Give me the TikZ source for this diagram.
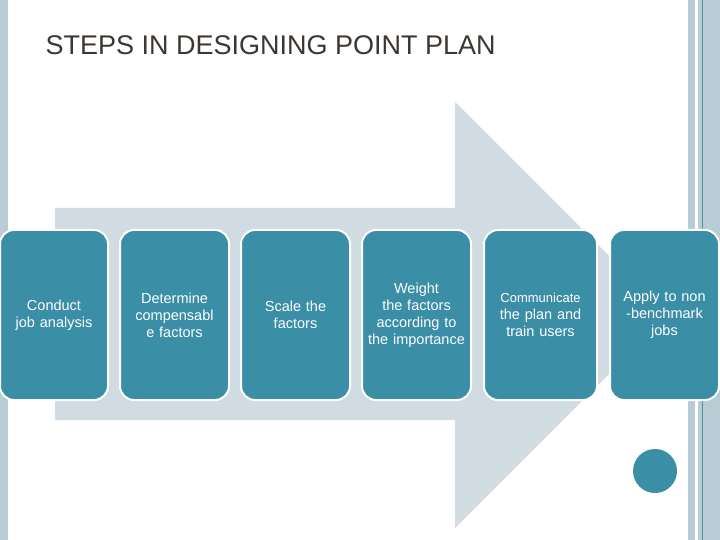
\documentclass[tikz,border=0pt]{standalone}
\usepackage{fontspec}
\setmainfont{Liberation Sans}
\definecolor{boxc}{RGB}{58,142,166}
\definecolor{arrc}{RGB}{208,220,226}
\definecolor{barc}{RGB}{184,204,214}
\definecolor{darkl}{RGB}{90,140,160}
\definecolor{titc}{RGB}{60,55,50}
\begin{document}
\begin{tikzpicture}[x=1pt,y=-1pt,
  stepbox/.style={draw=white,line width=2pt,fill=boxc,rounded corners=14pt,text=white,align=center,font=\fontsize{14.5}{17}\selectfont,text width=100pt,inner sep=0pt}]
\useasboundingbox (0,0) rectangle (720,540);
\fill[white] (0,0) rectangle (720,540);
\fill[barc] (0,0) rectangle (8,540);
\fill[barc] (688,0) rectangle (695,540);
\fill[barc] (698,0) rectangle (720,540);
\draw[darkl,line width=0.8pt] (702,0) -- (702,540);
\fill[arrc] (55,208) -- (455,208) -- (455,102) -- (668,315) -- (455,528) -- (455,420) -- (55,420) -- cycle;
\node[anchor=west,text=titc,font=\fontsize{27}{30}\selectfont] (t) at (42,45) {STEPS IN DESIGNING POINT PLAN};
\path[stepbox] (0,230) rectangle (108,400) node[midway,draw=none,fill=none] (b1) {Conduct job analysis};
\path[stepbox] (120,230) rectangle (229,400) node[midway,draw=none,fill=none] (b2) {Determine compensabl e factors};
\path[stepbox] (241,230) rectangle (350,400) node[midway,draw=none,fill=none] (b3) {Scale the factors};
\path[stepbox] (362,230) rectangle (471,400) node[midway,draw=none,fill=none] (b4) {Weight the factors according to the importance};
\path[stepbox] (484,230) rectangle (597,400) node[midway,draw=none,fill=none] (b5) {{\fontsize{13}{17}\selectfont Communicate}\\the plan and train users};
\path[stepbox] (610,230) rectangle (719,400) node[midway,draw=none,fill=none] (b6) {Apply to non -benchmark jobs};
\fill[boxc] (655,471) circle (22);
\end{tikzpicture}
\end{document}
